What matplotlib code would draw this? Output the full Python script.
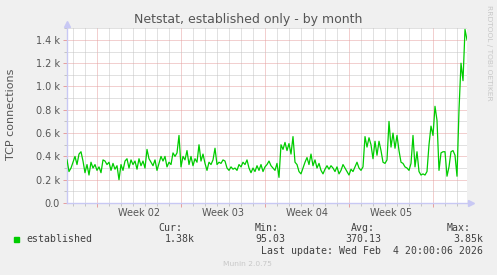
import datetime as dt
import numpy as np
import matplotlib
matplotlib.use('Agg')
import matplotlib.pyplot as plt
import matplotlib.dates as mdates
from matplotlib.patches import Rectangle
from matplotlib.ticker import MultipleLocator, FuncFormatter, NullFormatter

# established TCP connections, one sample every 4 hours
start = dt.datetime(2026, 1, 2, 12, 0)
end = dt.datetime(2026, 2, 4, 20, 0)
step_h = 4
established = [
    370, 270, 300, 350, 400, 330, 420, 440, 360, 260,
    330, 240, 350, 300, 330, 280, 310, 260, 370, 360,
    330, 350, 280, 340, 290, 320, 200, 330, 280, 360,
    380, 300, 370, 330, 360, 290, 380, 320, 360, 300,
    460, 380, 350, 320, 370, 280, 340, 400, 360, 400,
    310, 350, 330, 430, 400, 430, 580, 310, 400, 370,
    450, 330, 400, 320, 380, 350, 500, 360, 420, 340,
    280, 350, 330, 370, 470, 330, 350, 340, 370, 360,
    300, 280, 310, 290, 300, 280, 330, 310, 350, 330,
    370, 300, 260, 300, 270, 320, 280, 330, 270, 310,
    330, 360, 320, 300, 280, 340, 220, 500, 460, 520,
    450, 510, 420, 570, 350, 330, 270, 250, 300, 350,
    390, 330, 420, 320, 370, 300, 340, 280, 250, 290,
    320, 290, 320, 300, 270, 310, 250, 280, 330, 300,
    270, 240, 290, 270, 310, 350, 300, 280, 310, 570,
    480, 560, 500, 380, 530, 410, 530, 450, 350, 340,
    370, 700, 480, 600, 470, 580, 450, 350, 340, 310,
    300, 280, 340, 580, 310, 440, 270, 240, 250, 240,
    270, 500, 660, 580, 830, 710, 280, 430, 440, 440,
    230, 310, 440, 450, 410, 230, 800, 1200, 1050, 1490,
    1400,
]
times = [start + dt.timedelta(hours=step_h * i) for i in range(len(established))]

title = 'Netstat, established only - by month'
ylabel = 'TCP connections'
series_name = 'established'
stat_names = ['Cur:', 'Min:', 'Avg:', 'Max:']
stat_values = ['1.38k', '95.03', '370.13', '3.85k']
last_update = 'Last update: Wed Feb  4 20:00:06 2026'
footer = 'Munin 2.0.75'
credit = 'RRDTOOL / TOBI OETIKER'

W, H = 497, 275
bg = '#f0f0f0'
green = '#00cc00'
axis_col = '#c8c8f4'
txt = '#555555'
grid_minor = '#c4c4c4'
grid_major = '#e6a0a0'

plt.rcParams['lines.scale_dashes'] = False
dots = (0, (0.72, 0.72))  # 1 px on, 1 px off

fig = plt.figure(figsize=(W / 100, H / 100), dpi=100, facecolor=bg)
ax = fig.add_axes([67 / W, 72 / H, 400 / W, 174.75 / H], facecolor='white')

ax.plot(times, established, color=green, lw=0.9, zorder=3)
ax.set_xlim(start, end)
ax.set_ylim(0, 1500)

# grid: days / 0.1k gray, weeks / 0.2k red
ax.xaxis.set_major_locator(mdates.WeekdayLocator(byweekday=mdates.MO))
ax.xaxis.set_minor_locator(mdates.DayLocator())
ax.xaxis.set_major_formatter(NullFormatter())
ax.yaxis.set_major_locator(MultipleLocator(200))
ax.yaxis.set_minor_locator(MultipleLocator(100))
ax.yaxis.set_major_formatter(FuncFormatter(
    lambda v, p: '0.0' if v == 0 else '%.1f k' % (v / 1000)))
ax.grid(which='minor', color=grid_minor, lw=0.72, ls=dots)
ax.grid(which='major', color=grid_major, lw=0.72, ls=dots)
ax.set_axisbelow(True)
ax.tick_params(which='major', length=3, width=0.72, color=grid_major,
               labelsize=7, labelcolor=txt, pad=2)
ax.tick_params(which='minor', length=2, width=0.72, color=grid_minor)

for s in ('top', 'right'):
    ax.spines[s].set_visible(False)
for s in ('left', 'bottom'):
    ax.spines[s].set_color(axis_col)
    ax.spines[s].set_linewidth(1.0)
ax.plot([0], [1.025], marker='^', ms=5, color=axis_col, mec=axis_col,
        transform=ax.transAxes, clip_on=False)
ax.plot([1.01], [0], marker='>', ms=5, color=axis_col, mec=axis_col,
        transform=ax.transAxes, clip_on=False)

# week labels centred in each week
mondays = [dt.datetime(2026, 1, 5) + dt.timedelta(weeks=k) for k in range(5)]
mids = [m + dt.timedelta(days=3.5) for m in mondays if m + dt.timedelta(days=3.5) < end]
week_labels = ['Week %02d' % m.isocalendar()[1] for m in mids]
sec = ax.secondary_xaxis('bottom')
sec.set_xticks(mdates.date2num(mids), labels=week_labels)
sec.tick_params(length=0, labelsize=7, labelcolor=txt, pad=3.5)
sec.spines['bottom'].set_visible(False)

fig.text(248 / W, 1 - 19 / H, title, ha='center', va='center',
         fontsize=9, color=txt)
fig.text(11 / W, 1 - 114 / H, ylabel, ha='center', va='center',
         rotation=90, fontsize=8, color=txt)
fig.text(489 / W, 1 - 53 / H, credit, ha='center', va='center',
         rotation=270, fontsize=5.4, color='#c8c8c8')
fig.text(247.5 / W, 1 - 264.5 / H, footer, ha='center', va='center',
         fontsize=5.4, color='#c8c8c8')

# legend block
mono = dict(family='DejaVu Sans Mono', fontsize=7.15, color='#404040', va='center')
fig.patches.append(Rectangle((14 / W, 1 - 242 / H), 5.3 / W, 5.3 / H,
                             transform=fig.transFigure, color=green))
fig.text(26 / W, 1 - 239.3 / H, series_name, **mono)
for name, nx in zip(stat_names, [158.7, 255, 351, 446.7]):
    fig.text(nx / W, 1 - 227.7 / H, name, **mono)
for val, vx in zip(stat_values, [164.7, 255, 345, 453.3]):
    fig.text(vx / W, 1 - 239.3 / H, val, **mono)
fig.text(261 / W, 1 - 251 / H, last_update, **mono)

fig.savefig('out.png', dpi=100, facecolor=bg)
